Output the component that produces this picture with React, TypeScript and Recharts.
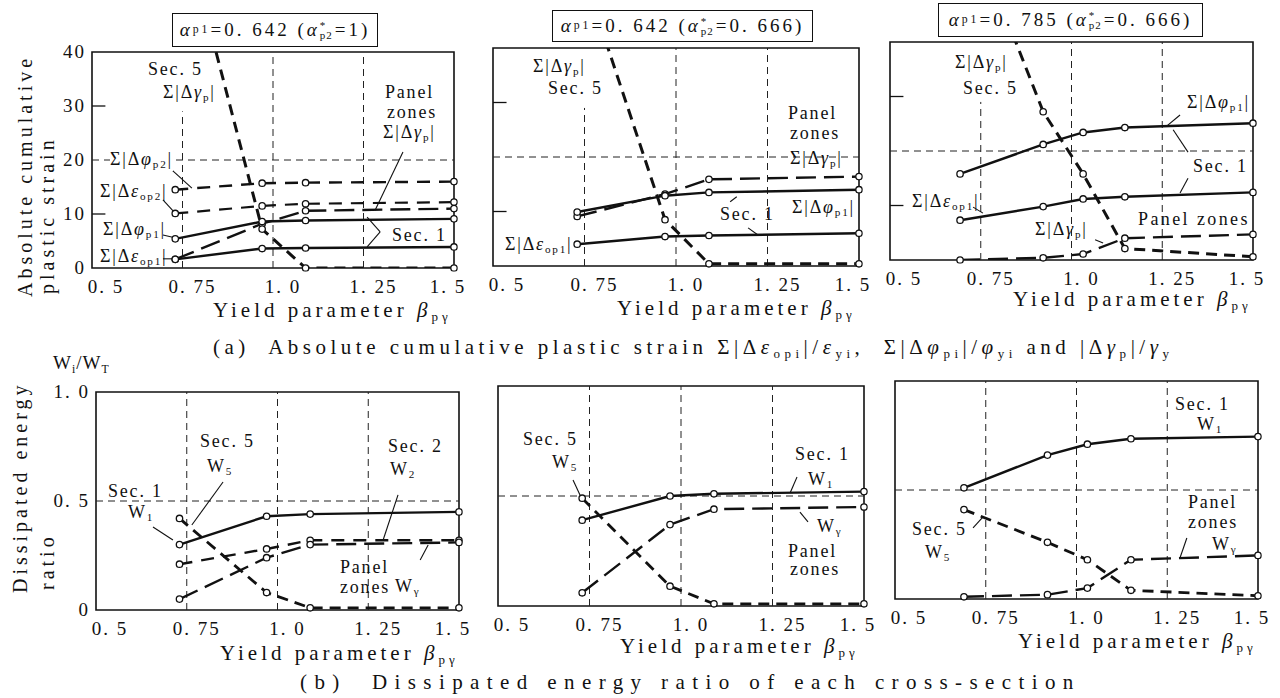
import React from 'react';
import { LineChart, Line, XAxis, YAxis, ReferenceLine, ReferenceArea } from 'recharts';

const FONT = '"Liberation Serif", "DejaVu Serif", serif';
const INK = '#111';

// x axis (yield parameter beta_py)
const xTicks = [0.5, 0.75, 1.0, 1.25, 1.5];
const yTicksA = [0, 10, 20, 30, 40];
const yTicksB = [0, 0.5, 1];

// (a) absolute cumulative plastic strain, alpha_p1=0.642 (alpha*_p2=1)
const betaA1 = [0.73, 0.97, 1.09, 1.5];
const phiP2A1 = [14.5, 15.7, 15.8, 16.0];
const epsOp2A1 = [10.1, 11.5, 11.9, 12.2];
const gammaPzA1 = [1.6, 8.2, 10.6, 11.0];
const phiP1A1 = [5.4, 8.6, 8.8, 9.1];
const epsOp1A1 = [1.6, 3.6, 3.7, 3.9];
const gammaS5A1 = [69, 7.2, 0, 0];

// (a) alpha_p1=0.642 (alpha*_p2=0.666)
const betaA2 = [0.73, 0.97, 1.09, 1.5];
const gammaPzA2 = [9.1, 13.2, 15.9, 16.4];
const phiP1A2 = [9.9, 12.9, 13.5, 14.0];
const epsOp1A2 = [4.0, 5.4, 5.6, 6.0];
const gammaS5A2 = [57, 8.5, 0.4, 0.4];

// (a) alpha_p1=0.785 (alpha*_p2=0.666)
const betaA3 = [0.693, 0.922, 1.032, 1.147, 1.5];
const phiP1A3 = [15.8, 21.2, 23.4, 24.3, 25.1];
const epsOp1A3 = [7.3, 9.8, 11.2, 11.6, 12.4];
const gammaPzA3 = [0.0, 0.4, 1.1, 4.0, 4.7];
const gammaS5A3 = [66, 27.2, 15.8, 2.1, 0.6];

// (b) dissipated energy ratio W_i/W_T
const betaB1 = [0.73, 0.97, 1.09, 1.5];
const w1B1 = [0.3, 0.43, 0.44, 0.45];
const w2B1 = [0.21, 0.28, 0.32, 0.32];
const wgB1 = [0.05, 0.24, 0.3, 0.31];
const w5B1 = [0.42, 0.08, 0.01, 0.01];

const betaB2 = [0.73, 0.97, 1.09, 1.5];
const w1B2 = [0.39, 0.5, 0.51, 0.52];
const wgB2 = [0.06, 0.37, 0.44, 0.45];
const w5B2 = [0.49, 0.09, 0.01, 0.01];

const betaB3 = [0.69, 0.92, 1.03, 1.15, 1.5];
const w1B3 = [0.51, 0.66, 0.71, 0.735, 0.745];
const w5B3 = [0.41, 0.26, 0.18, 0.04, 0.015];
const wgB3 = [0.01, 0.02, 0.05, 0.18, 0.2];

const S5 = '11 7';
const SEC2 = '13 9';
const PZ = '20 8';

type Series = { key: string; values: number[]; dash?: string; width?: number };
type Seg = [number, number, number, number];

const fmtX = (v: number) => (Number.isInteger(v) ? v.toFixed(1) : String(v)).replace('.', '. ');

const XTick = (props: any) => {
  const { x, y, payload } = props;
  const v = payload.value;
  const dx = v === 0.5 ? 14 : v === 1.5 ? -6 : 10;
  return (
    <text x={x + dx} y={y} dy={25} textAnchor="middle" fill={INK} fontSize={19} fontFamily={FONT} style={{ letterSpacing: '2px' }}>
      {fmtX(v)}
    </text>
  );
};

const YTick = (props: any) => {
  const { x, y, payload, small } = props;
  const v = payload.value;
  const label = small ? (v === 0 ? '0' : v.toFixed(1).replace('.', '. ')) : String(v);
  return (
    <text x={x - 6} y={y} dy={6} textAnchor="end" fill={INK} fontSize={19} fontFamily={FONT} style={{ letterSpacing: '2px' }}>
      {label}
    </text>
  );
};

type PanelProps = {
  left: number;
  top: number;
  w: number;
  h: number;
  betas: number[];
  series: Series[];
  yMax: number;
  yTicks: number[];
  showY?: boolean;
  hLine: number;
  gridTop: number;
  innerTicks?: number[];
  leaders?: Seg[];
};

const Panel = ({ left, top, w, h, betas, series, yMax, yTicks, showY, hLine, gridTop, innerTicks = [], leaders = [] }: PanelProps) => {
  const YW = 62, MT = 12, MR = 12, XH = 32;
  const data = betas.map((b, i) => {
    const row: any = { beta: b };
    series.forEach((s) => (row[s.key] = s.values[i]));
    return row;
  });
  const grid = { stroke: '#222', strokeWidth: 1, strokeDasharray: '7 5' };
  return (
    <div style={{ position: 'absolute', left: left - YW, top: top - MT }}>
      <LineChart width={YW + w + MR} height={MT + h + XH} data={data} margin={{ top: MT, right: MR, left: 0, bottom: 0 }}>
        <XAxis type="number" dataKey="beta" domain={[0.5, 1.5]} ticks={xTicks} interval={0} height={XH}
          axisLine={false} tickLine={false} tickSize={0} tickMargin={0} tick={(p: any) => <XTick {...p} />} allowDataOverflow />
        <YAxis type="number" domain={[0, yMax]} ticks={yTicks} interval={0} width={YW}
          axisLine={false} tickLine={false} tickSize={0} tickMargin={0}
          tick={showY ? (p: any) => <YTick {...p} small={yMax === 1} /> : false} allowDataOverflow />
        <ReferenceLine segment={[{ x: 0.75, y: 0 }, { x: 0.75, y: gridTop }]} {...grid} />
        <ReferenceLine x={1.0} {...grid} />
        <ReferenceLine x={1.25} {...grid} />
        <ReferenceLine y={hLine} {...grid} />
        {innerTicks.map((t) => (
          <ReferenceLine key={'t' + t} segment={[{ x: 0.5, y: t }, { x: 0.537, y: t }]} stroke={INK} strokeWidth={1.3} />
        ))}
        {leaders.map((l, i) => (
          <ReferenceLine key={'l' + i} segment={[{ x: l[0], y: l[1] }, { x: l[2], y: l[3] }]} stroke={INK} strokeWidth={1.1} />
        ))}
        {series.map((s) => (
          <Line key={s.key} dataKey={s.key} type="linear" stroke={INK} strokeWidth={s.width ?? 2.4}
            strokeDasharray={s.dash}
            dot={{ r: 3.2, fill: '#fff', stroke: INK, strokeWidth: 1.3, strokeDasharray: 'none', clipDot: false } as any}
            activeDot={false} isAnimationActive={false} />
        ))}
        <ReferenceArea x1={0.5} x2={1.5} y1={0} y2={yMax} fill="none" stroke={INK} strokeWidth={1.6} />
      </LineChart>
    </div>
  );
};

const Sb = ({ t }: { t: string }) => (
  <span style={{ fontSize: '0.62em', verticalAlign: '-0.3em' }}>{t}</span>
);

const Abs = ({ g, s }: { g: string; s: string }) => (
  <>
    Σ|Δ<i>{g}</i>
    <Sb t={s} />|
  </>
);

const Note = ({ x, y, size = 18, ls = 1.8, bg, children }: any) => (
  <div style={{ position: 'absolute', left: x, top: y - size * 0.55, fontSize: size, lineHeight: 1, letterSpacing: ls,
    whiteSpace: 'nowrap', fontFamily: FONT, color: INK, background: bg }}>
    {children}
  </div>
);

const VNote = ({ x, y, ls = 4, children }: any) => (
  <div style={{ position: 'absolute', left: x, top: y, transform: 'rotate(-90deg)', transformOrigin: 'left top',
    fontSize: 20, lineHeight: 1, letterSpacing: ls, whiteSpace: 'nowrap', fontFamily: FONT, color: INK }}>
    {children}
  </div>
);

const Alpha = ({ p1, p2 }: { p1: string; p2: string }) => (
  <>
    <i>α</i>
    <Sb t="p1" />={p1} (<i>α</i>
    <span style={{ display: 'inline-flex', flexDirection: 'column', fontSize: 11, lineHeight: '10px', verticalAlign: 'middle', letterSpacing: 1, marginRight: 2 }}>
      <span>*</span>
      <span>p2</span>
    </span>
    ={p2})
  </>
);

const Box = ({ x, y, w, h, children }: any) => (
  <div style={{ position: 'absolute', left: x, top: y, width: w, height: h, boxSizing: 'border-box',
    border: '1.5px solid #111', display: 'flex', alignItems: 'center', justifyContent: 'center',
    fontSize: 19, fontFamily: FONT, color: INK, letterSpacing: 3, whiteSpace: 'nowrap' }}>
    {children}
  </div>
);

const Beta = () => (
  <>
    Yield parameter <i>β</i>
    <Sb t="pγ" />
  </>
);

export default function App() {
  return (
    <div style={{ position: 'absolute', left: 0, top: 0, width: 1280, height: 698, background: '#fff', overflow: 'hidden' }}>
      <Panel left={92} top={52} w={362} h={216} betas={betaA1} yMax={40} yTicks={yTicksA} showY hLine={20} gridTop={29}
        innerTicks={[10, 30]}
        series={[
          { key: 'phiP2', values: phiP2A1, dash: SEC2 },
          { key: 'epsOp2', values: epsOp2A1, dash: SEC2, width: 2.2 },
          { key: 'gammaPz', values: gammaPzA1, dash: PZ },
          { key: 'phiP1', values: phiP1A1 },
          { key: 'epsOp1', values: epsOp1A1 },
          { key: 'gammaS5', values: gammaS5A1, dash: S5, width: 3 },
        ]}
        leaders={[
          [0.715, 18.5, 0.776, 14.8],
          [0.696, 12.6, 0.729, 10.2],
          [0.696, 6.1, 0.729, 5.6],
          [0.696, 1.7, 0.724, 1.7],
          [1.359, 21.5, 1.282, 10.7],
          [1.26, 9.4, 1.296, 6.7],
          [1.296, 6.7, 1.26, 3.9],
        ]}
      />
      <Panel left={493} top={48} w={366} h={218} betas={betaA2} yMax={40} yTicks={yTicksA} hLine={20} gridTop={29}
        innerTicks={[10, 30]}
        series={[
          { key: 'gammaPz', values: gammaPzA2, dash: PZ },
          { key: 'phiP1', values: phiP1A2 },
          { key: 'epsOp1', values: epsOp1A2 },
          { key: 'gammaS5', values: gammaS5A2, dash: S5, width: 3 },
        ]}
        leaders={[
          [1.197, 7.0, 1.224, 5.7],
          [1.166, 12.7, 1.148, 11.8],
        ]}
      />
      <Panel left={890} top={42} w={363} h={218} betas={betaA3} yMax={40} yTicks={yTicksA} hLine={20} gridTop={29}
        innerTicks={[10, 30]}
        series={[
          { key: 'phiP1', values: phiP1A3 },
          { key: 'epsOp1', values: epsOp1A3 },
          { key: 'gammaPz', values: gammaPzA3, dash: PZ },
          { key: 'gammaS5', values: gammaS5A3, dash: S5, width: 3 },
        ]}
        leaders={[
          [1.299, 26.6, 1.263, 24.6],
          [1.321, 19.8, 1.28, 23.9],
          [1.321, 15.0, 1.299, 12.3],
          [0.729, 9.7, 0.756, 8.6],
          [1.065, 3.7, 1.087, 3.1],
        ]}
      />
      <Panel left={96} top={392} w={363} h={218} betas={betaB1} yMax={1} yTicks={yTicksB} showY hLine={0.5} gridTop={1}
        series={[
          { key: 'w1', values: w1B1 },
          { key: 'w2', values: w2B1, dash: SEC2 },
          { key: 'wg', values: wgB1, dash: PZ },
          { key: 'w5', values: w5B1, dash: S5, width: 2.8 },
        ]}
        leaders={[
          [0.85, 0.587, 0.764, 0.39],
          [0.657, 0.381, 0.712, 0.321],
          [1.332, 0.528, 1.291, 0.321],
          [1.393, 0.229, 1.415, 0.298],
        ]}
      />
      <Panel left={498} top={386} w={366} h={220} betas={betaB2} yMax={1} yTicks={yTicksB} hLine={0.5} gridTop={1}
        series={[
          { key: 'w1', values: w1B2 },
          { key: 'wg', values: wgB2, dash: PZ },
          { key: 'w5', values: w5B2, dash: S5, width: 2.8 },
        ]}
        leaders={[
          [0.705, 0.573, 0.724, 0.505],
          [1.317, 0.586, 1.298, 0.514],
          [1.325, 0.427, 1.347, 0.382],
        ]}
      />
      <Panel left={895} top={381} w={363} h={218} betas={betaB3} yMax={1} yTicks={yTicksB} hLine={0.5} gridTop={1}
        series={[
          { key: 'w1', values: w1B3 },
          { key: 'w5', values: w5B3, dash: S5, width: 2.8 },
          { key: 'wg', values: wgB3, dash: PZ },
        ]}
        leaders={[
          [0.715, 0.326, 0.742, 0.376],
          [1.304, 0.28, 1.285, 0.188],
        ]}
      />

      {/* panel titles */}
      <Box x={172} y={13} w={206} h={34}><Alpha p1="0. 642" p2="1" /></Box>
      <Box x={552} y={10} w={261} h={32}><Alpha p1="0. 642" p2="0. 666" /></Box>
      <Box x={938} y={3} w={265} h={34}><Alpha p1="0. 785" p2="0. 666" /></Box>

      {/* y axis titles */}
      <VNote x={15} y={297}>Absolute cumulative</VNote>
      <VNote x={37} y={294}>plastic strain</VNote>
      <VNote x={10} y={593}>Dissipated energy</VNote>
      <VNote x={37} y={590}>ratio</VNote>
      <Note x={53} y={363} size={19} ls={1}>W<Sb t="i" />/W<Sb t="T" /></Note>

      {/* x axis titles */}
      <Note x={213} y={312} size={21} ls={4}><Beta /></Note>
      <Note x={617} y={310} size={21} ls={4}><Beta /></Note>
      <Note x={1013} y={301} size={21} ls={4}><Beta /></Note>
      <Note x={220} y={655} size={21} ls={4}><Beta /></Note>
      <Note x={620} y={648} size={21} ls={4}><Beta /></Note>
      <Note x={1018} y={643} size={21} ls={4}><Beta /></Note>

      {/* captions */}
      <Note x={213} y={349} size={21} ls={4.5}>
        (a)&nbsp; Absolute cumulative plastic strain Σ|Δ<i>ε</i><Sb t="opi" />|/<i>ε</i><Sb t="yi" />,&nbsp;
        Σ|Δ<i>φ</i><Sb t="pi" />|/<i>φ</i><Sb t="yi" /> and |Δ<i>γ</i><Sb t="p" />|/<i>γ</i><Sb t="y" />
      </Note>
      <Note x={300} y={684} size={21} ls={7.4}>(b)&nbsp; Dissipated energy ratio of each cross-section</Note>

      {/* annotations, panel a-1 */}
      <Note x={148} y={70}>Sec. 5</Note>
      <Note x={163} y={93}><Abs g="γ" s="p" /></Note>
      <Note x={110} y={160} bg="#fff"><Abs g="φ" s="p2" /></Note>
      <Note x={100} y={192}><Abs g="ε" s="op2" /></Note>
      <Note x={103} y={230}><Abs g="φ" s="p1" /></Note>
      <Note x={100} y={257}><Abs g="ε" s="op1" /></Note>
      <Note x={385} y={93}>Panel</Note>
      <Note x={387} y={113}>zones</Note>
      <Note x={383} y={133}><Abs g="γ" s="p" /></Note>
      <Note x={392} y={236}>Sec. 1</Note>

      {/* panel a-2 */}
      <Note x={533} y={67}><Abs g="γ" s="p" /></Note>
      <Note x={548} y={89}>Sec. 5</Note>
      <Note x={788} y={114}>Panel</Note>
      <Note x={790} y={134}>zones</Note>
      <Note x={790} y={159}><Abs g="γ" s="p" /></Note>
      <Note x={792} y={208}><Abs g="φ" s="p1" /></Note>
      <Note x={720} y={215}>Sec. 1</Note>
      <Note x={505} y={245}><Abs g="ε" s="op1" /></Note>

      {/* panel a-3 */}
      <Note x={955} y={63}><Abs g="γ" s="p" /></Note>
      <Note x={963} y={89}>Sec. 5</Note>
      <Note x={1187} y={103}><Abs g="φ" s="p1" /></Note>
      <Note x={1193} y={167}>Sec. 1</Note>
      <Note x={912} y={202}><Abs g="ε" s="op1" /></Note>
      <Note x={1035} y={230}><Abs g="γ" s="p" /></Note>
      <Note x={1138} y={220} ls={2.4}>Panel zones</Note>

      {/* panel b-1 */}
      <Note x={200} y={442}>Sec. 5</Note>
      <Note x={207} y={467}>W<Sb t="5" /></Note>
      <Note x={108} y={492}>Sec. 1</Note>
      <Note x={128} y={513}>W<Sb t="1" /></Note>
      <Note x={388} y={447}>Sec. 2</Note>
      <Note x={390} y={470}>W<Sb t="2" /></Note>
      <Note x={340} y={568}>Panel</Note>
      <Note x={340} y={588}>zones</Note>
      <Note x={395} y={587}>W<Sb t="γ" /></Note>

      {/* panel b-2 */}
      <Note x={523} y={440}>Sec. 5</Note>
      <Note x={552} y={463}>W<Sb t="5" /></Note>
      <Note x={795} y={455}>Sec. 1</Note>
      <Note x={808} y={480}>W<Sb t="1" /></Note>
      <Note x={817} y={527}>W<Sb t="γ" /></Note>
      <Note x={788} y={552}>Panel</Note>
      <Note x={790} y={570}>zones</Note>

      {/* panel b-3 */}
      <Note x={1175} y={405}>Sec. 1</Note>
      <Note x={1197} y={425}>W<Sb t="1" /></Note>
      <Note x={912} y={530}>Sec. 5</Note>
      <Note x={925} y={553}>W<Sb t="5" /></Note>
      <Note x={1188} y={503}>Panel</Note>
      <Note x={1188} y={523}>zones</Note>
      <Note x={1212} y={545}>W<Sb t="γ" /></Note>
    </div>
  );
}
